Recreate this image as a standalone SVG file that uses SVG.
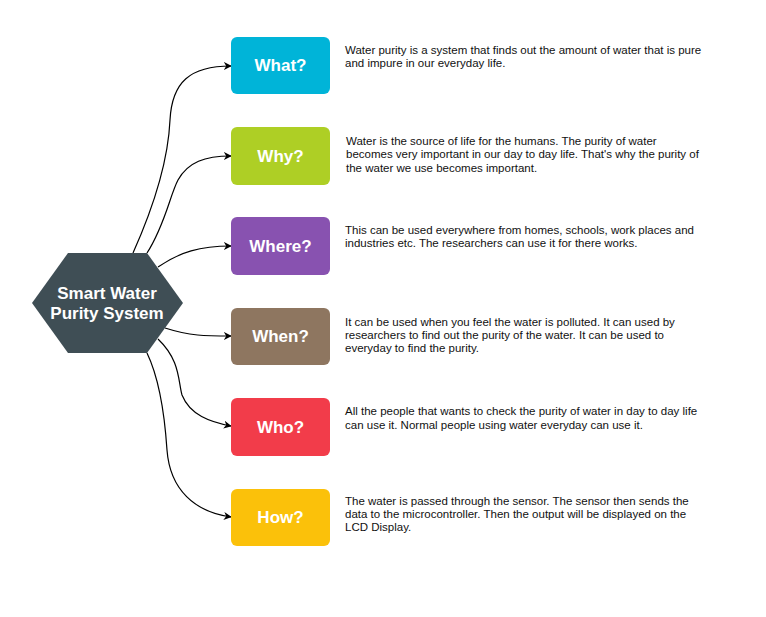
<svg xmlns="http://www.w3.org/2000/svg" width="766" height="617" viewBox="0 0 766 617">
<style>
.lbl{font-family:"Liberation Sans",Arial,sans-serif;font-weight:bold;font-size:17px;fill:#fff;text-anchor:middle}
.desc{font-family:"Liberation Sans",Arial,sans-serif;font-size:11.5px;fill:#111}
.edge{fill:none;stroke:#000;stroke-width:1.2;marker-end:url(#arr)}
</style>
<defs>
<marker id="arr" viewBox="0 0 10 10" refX="9" refY="5" markerWidth="8" markerHeight="8" markerUnits="userSpaceOnUse" orient="auto">
<path d="M0,0 L10,5 L0,10 L3,5 Z" fill="#000"/>
</marker>
</defs>
<rect width="766" height="617" fill="#fff"/>
<g id="connectors">
<path class="edge" d="M133,253 C150,215 168,165 170,120 C172,82 190,66 231,66"/>
<path class="edge" d="M147,253 C165,225 170,195 178,180 C188,162 205,156 231,156"/>
<path class="edge" d="M158,267 C180,252 200,246 231,246"/>
<path class="edge" d="M165,328 C190,336 205,336 231,336"/>
<path class="edge" d="M158,339 C180,360 178,380 182,395 C190,415 210,422 231,426"/>
<path class="edge" d="M147,353 C160,380 165,420 167,450 C170,490 195,512 231,517"/>
</g>
<g id="center">
<polygon points="68,253 147,253 183,303 147,353 68,353 32,303" fill="#3f4e55"/>
<text class="lbl" x="107" y="299">Smart Water</text>
<text class="lbl" x="107" y="319">Purity System</text>
</g>
<g id="what">
<rect x="231" y="37" width="99" height="57" rx="6" fill="#00b4d8"/>
<text class="lbl" x="280.5" y="71">What?</text>
</g>
<g id="why">
<rect x="231" y="127" width="99" height="58" rx="6" fill="#aecf25"/>
<text class="lbl" x="280.5" y="162">Why?</text>
</g>
<g id="where">
<rect x="231" y="217" width="99" height="58" rx="6" fill="#8852b0"/>
<text class="lbl" x="280.5" y="252">Where?</text>
</g>
<g id="when">
<rect x="231" y="308" width="99" height="57" rx="6" fill="#8e7660"/>
<text class="lbl" x="280.5" y="342">When?</text>
</g>
<g id="who">
<rect x="231" y="398" width="99" height="58" rx="6" fill="#f23c4a"/>
<text class="lbl" x="280.5" y="433">Who?</text>
</g>
<g id="how">
<rect x="231" y="489" width="99" height="57" rx="6" fill="#fbc10a"/>
<text class="lbl" x="280.5" y="523">How?</text>
</g>
<g id="descriptions">
<text class="desc" x="345" y="54">Water purity is a system that finds out the amount of water that is pure</text>
<text class="desc" x="345" y="67">and impure in our everyday life.</text>
<text class="desc" x="346" y="145">Water is the source of life for the humans. The purity of water</text>
<text class="desc" x="346" y="158">becomes very important in our day to day life. That's why the purity of</text>
<text class="desc" x="346" y="172">the water we use becomes important.</text>
<text class="desc" x="345" y="234">This can be used everywhere from homes, schools, work places and</text>
<text class="desc" x="345" y="247">industries etc. The researchers can use it for there works.</text>
<text class="desc" x="345" y="326">It can be used when you feel the water is polluted. It can used by</text>
<text class="desc" x="345" y="339">researchers to find out the purity of the water. It can be used to</text>
<text class="desc" x="345" y="352">everyday to find the purity.</text>
<text class="desc" x="345" y="415">All the people that wants to check the purity of water in day to day life</text>
<text class="desc" x="345" y="429">can use it. Normal people using water everyday can use it.</text>
<text class="desc" x="345" y="505">The water is passed through the sensor. The sensor then sends the</text>
<text class="desc" x="345" y="518">data to the microcontroller. Then the output will be displayed on the</text>
<text class="desc" x="345" y="531">LCD Display.</text>
</g>
</svg>
